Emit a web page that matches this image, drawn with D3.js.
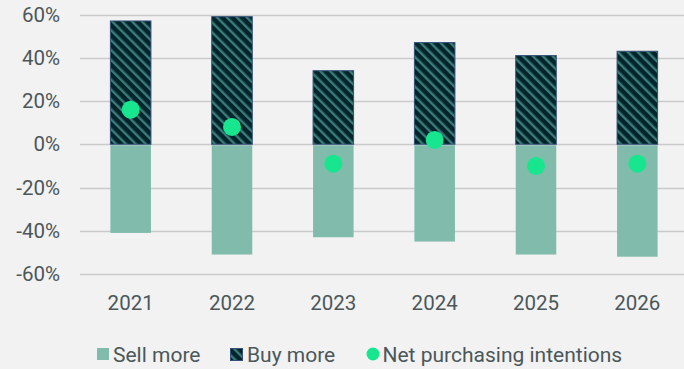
<!DOCTYPE html>
<html>
<head>
<meta charset="utf-8">
<script src="https://cdn.jsdelivr.net/npm/d3@7/dist/d3.min.js"></script>
<style>
  html, body { margin: 0; padding: 0; background: #f2f2f2; }
  svg { display: block; }
  text { font-family: Roboto, "Noto Sans", sans-serif; fill: #4b5759; }
</style>
</head>
<body>
<svg id="chart" width="684" height="369"></svg>
<script>
// Survey years and shares (in %) of respondents
const years = ["2021", "2022", "2023", "2024", "2025", "2026"];
const buyMore = [57, 59, 34, 47, 41, 43];
const sellMore = [-41, -51, -43, -45, -51, -52];
const netIntentions = [16, 8, -9, 2, -10, -9];
const yTicks = [60, 40, 20, 0, -20, -40, -60];

const W = 684, H = 369;
const svg = d3.select("#chart");

svg.append("rect").attr("width", W).attr("height", H).attr("fill", "#f2f2f2");

// Diagonal hatch for the "Buy more" bars
const defs = svg.append("defs");
const pat = defs.append("pattern")
  .attr("id", "hatch")
  .attr("patternUnits", "userSpaceOnUse")
  .attr("width", 7).attr("height", 7)
  .attr("patternTransform", "rotate(-45)");
pat.append("rect").attr("width", 7).attr("height", 7).attr("fill", "#00262b");
pat.append("rect").attr("x", 0).attr("y", 0).attr("width", 2.4).attr("height", 7).attr("fill", "#3f7b7a");

const x = d3.scaleBand().domain(years).range([80, 688]).paddingInner(0.6).paddingOuter(0.3);
const y = d3.scaleLinear().domain([-60, 60]).range([274, 14.5]);

// Gridlines
svg.append("g").selectAll("line").data(yTicks).join("line")
  .attr("x1", 80).attr("x2", W)
  .attr("y1", d => Math.round(y(d)) + 0.5).attr("y2", d => Math.round(y(d)) + 0.5)
  .attr("stroke", "#cacaca").attr("stroke-width", 1.5);

// Y axis labels
const yAxis = d3.axisLeft(y).tickValues(yTicks).tickSize(0).tickPadding(0).tickFormat(d => d + "%");
const gy = svg.append("g").attr("transform", "translate(60,0)").call(yAxis);
gy.select(".domain").remove();
gy.selectAll("text").attr("font-size", 20.5).attr("fill", "#4b5759").attr("font-family", "Roboto, sans-serif");

// X axis labels
const xAxis = d3.axisBottom(x).tickSize(0).tickPadding(0);
const gx = svg.append("g").attr("transform", "translate(0,295)").call(xAxis);
gx.select(".domain").remove();
gx.selectAll("text").attr("font-size", 20.5).attr("fill", "#4b5759").attr("font-family", "Roboto, sans-serif");

// Sell more (negative) bars
svg.append("g").selectAll("rect").data(years).join("rect")
  .attr("x", d => x(d))
  .attr("width", x.bandwidth())
  .attr("y", y(0) + 1)
  .attr("height", (d, i) => y(sellMore[i]) - y(0) - 1)
  .attr("fill", "#80bbac");

// Buy more (positive) bars
svg.append("g").selectAll("rect").data(years).join("rect")
  .attr("x", d => x(d))
  .attr("width", x.bandwidth())
  .attr("y", (d, i) => y(buyMore[i]))
  .attr("height", (d, i) => y(0) - y(buyMore[i]))
  .attr("fill", "url(#hatch)")
  .attr("stroke", "#33507a").attr("stroke-width", 1);

// Net purchasing intentions dots
svg.append("g").selectAll("circle").data(years).join("circle")
  .attr("cx", d => x(d) + x.bandwidth() / 2)
  .attr("cy", (d, i) => y(netIntentions[i]))
  .attr("r", 9)
  .attr("fill", "#17e68f");

// Legend
const lg = svg.append("g").attr("transform", "translate(0,354)");
lg.append("rect").attr("x", 97).attr("y", -6).attr("width", 12).attr("height", 12).attr("fill", "#80bbac");
lg.append("text").attr("x", 113).attr("y", 7.5).attr("font-size", 21).text("Sell more");
lg.append("rect").attr("x", 230.5).attr("y", -5.5).attr("width", 12).attr("height", 12)
  .attr("fill", "url(#hatch)").attr("stroke", "#33507a");
lg.append("text").attr("x", 247).attr("y", 7.5).attr("font-size", 21).text("Buy more");
lg.append("circle").attr("cx", 373).attr("cy", 0).attr("r", 6.5).attr("fill", "#17e68f");
lg.append("text").attr("x", 382.5).attr("y", 7.5).attr("font-size", 21).text("Net purchasing intentions");
</script>
</body>
</html>
